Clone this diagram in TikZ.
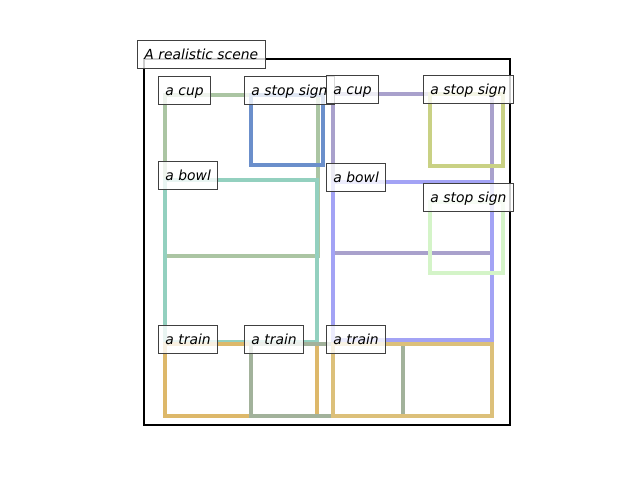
\documentclass[tikz,border=0pt]{standalone}
\usepackage{fontspec}
\setsansfont{DejaVu Sans}
\usetikzlibrary{calc}

\definecolor{cupA}{HTML}{ABC5A3}
\definecolor{cupB}{HTML}{A9A1CC}
\definecolor{stopA}{HTML}{6B8FCB}
\definecolor{stopB}{HTML}{C9D184}
\definecolor{stopC}{HTML}{D4F4C8}
\definecolor{bowlA}{HTML}{93D0BF}
\definecolor{bowlB}{HTML}{A3A3F5}
\definecolor{trainA}{HTML}{DDB86A}
\definecolor{trainB}{HTML}{A2B29B}
\definecolor{trainC}{HTML}{DCC07A}

\tikzset{
  tag/.style={draw=black!75, line width=0.7pt, fill=white, fill opacity=0.8, text opacity=1,
    inner xsep=5pt, inner ysep=5pt, text height=8.5pt, text depth=1.7pt,
    anchor=base west, xshift=-5pt, font=\sffamily\itshape\fontsize{10}{12}\selectfont},
  objbox/.style={line width=2.2pt}
}

\begin{document}
\begin{tikzpicture}[x=0.72pt, y=-0.72pt]
    \useasboundingbox (0,0) rectangle (640,480);

    % boxes: left/top/right/bottom/colour/name
    \foreach \xa/\ya/\xb/\yb/\col/\nm in {
        165/95/318/256/cupA/cupA,
        251/95/323/165/stopA/stopA,
        165/180/317/342/bowlA/bowlA,
        333/94/492/253/cupB/cupB,
        430/94/503/166/stopB/stopB,
        333/182/492/340/bowlB/bowlB,
        430/202/503/273/stopC/stopC,
        165/344/317/416/trainA/trainA,
        251/344/403/416/trainB/trainB,
        333/344/492/416/trainC/trainC}{
        \coordinate (\nm) at (\xa,\ya);
        \draw[objbox, draw=\col] (\xa,\ya) rectangle (\xb,\yb);
    }

    \draw[line width=2.1pt] (144,59) rectangle (510,425);

    \node[tag] (title) at (144,59) {A realistic scene};
    \node[tag] (lcupA) at (cupA) {a cup};
    \node[tag] (lstopA) at (stopA) {a stop sign};
    \node[tag] (lbowlA) at (bowlA) {a bowl};
    \node[tag] (lcupB) at (cupB) {a cup};
    \node[tag] (lstopB) at (stopB) {a stop sign};
    \node[tag] (lbowlB) at (bowlB) {a bowl};
    \node[tag] (lstopC) at (stopC) {a stop sign};
    \node[tag] (ltrainA) at (trainA) {a train};
    \node[tag] (ltrainB) at (trainB) {a train};
    \node[tag] (ltrainC) at (trainC) {a train};

\end{tikzpicture}
\end{document}
